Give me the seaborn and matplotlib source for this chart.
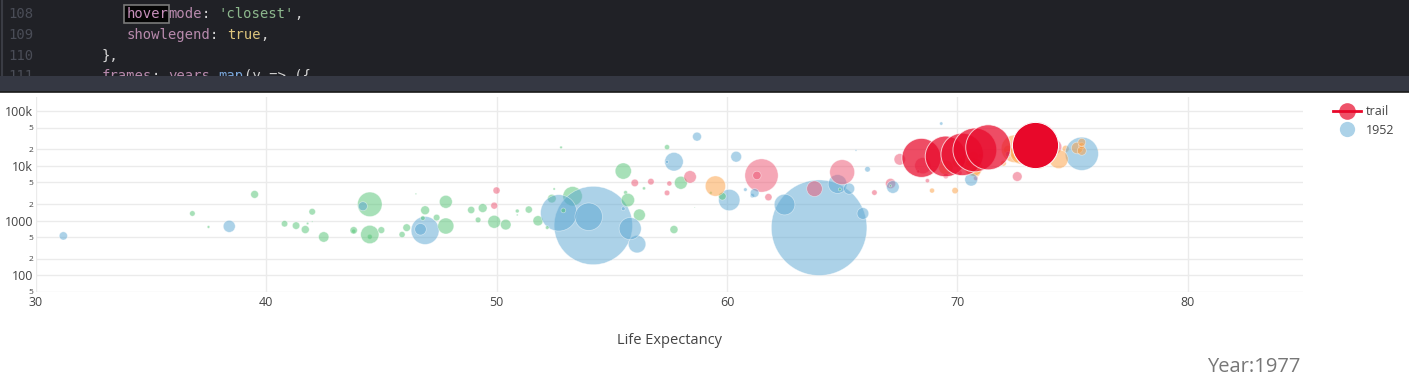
import numpy as np
import pandas as pd
import matplotlib
matplotlib.use("Agg")
import matplotlib.pyplot as plt
import seaborn as sns
from matplotlib.lines import Line2D
from matplotlib.patches import Rectangle
from matplotlib.ticker import FixedLocator

# ---------------- data (Year 1977 frame) ----------------
asia_country = ["Afghanistan", "Bahrain", "Bangladesh", "Cambodia", "China", "Hong Kong", "India",
                "Indonesia", "Iran", "Iraq", "Israel", "Japan", "Jordan", "Korea, Dem. Rep.",
                "Korea, Rep.", "Kuwait", "Lebanon", "Malaysia", "Mongolia", "Myanmar", "Nepal",
                "Oman", "Pakistan", "Philippines", "Saudi Arabia", "Singapore", "Sri Lanka",
                "Syria", "Taiwan", "Thailand", "Vietnam", "West Bank and Gaza", "Yemen, Rep."]
asia_life = [38.4, 65.6, 46.9, 31.2, 64.0, 73.6, 54.2, 52.7, 57.7, 60.4, 73.1, 75.4, 61.1, 67.2,
             64.8, 69.3, 66.1, 65.3, 55.5, 56.1, 46.7, 57.4, 54.0, 60.1, 58.7, 70.8, 65.9, 61.2,
             70.6, 62.5, 55.8, 60.8, 44.2]
asia_gdp = [786, 19211, 660, 525, 741, 11186, 813, 1383, 11889, 14688, 13307, 16610, 2852, 4106,
            4657, 59265, 8660, 3828, 1648, 371, 694, 11848, 1176, 2373, 34168, 11210, 1349, 3195,
            5597, 1961, 714, 3683, 1830]
asia_pop = [14.9, 0.30, 80.4, 7.0, 943.5, 4.6, 634.0, 136.7, 35.5, 11.9, 3.5, 113.9, 1.9, 16.3,
            36.4, 1.1, 3.1, 12.8, 1.5, 31.5, 13.9, 1.0, 78.2, 46.9, 8.1, 2.3, 14.1, 7.9, 16.8,
            44.1, 50.5, 1.3, 8.4]

africa_country = ["Algeria", "Angola", "Benin", "Botswana", "Burkina Faso", "Burundi", "Cameroon",
                  "Central African Republic", "Chad", "Comoros", "Congo, Dem. Rep.", "Congo, Rep.",
                  "Cote d'Ivoire", "Djibouti", "Egypt", "Equatorial Guinea", "Eritrea", "Ethiopia",
                  "Gabon", "Gambia", "Ghana", "Guinea", "Guinea-Bissau", "Kenya", "Lesotho",
                  "Liberia", "Libya", "Madagascar", "Malawi", "Mali", "Mauritania", "Mauritius",
                  "Morocco", "Mozambique", "Namibia", "Niger", "Nigeria", "Reunion", "Rwanda",
                  "Sao Tome and Principe", "Senegal", "Sierra Leone", "Somalia", "South Africa",
                  "Sudan", "Swaziland", "Tanzania", "Togo", "Tunisia", "Uganda", "Zambia", "Zimbabwe"]
africa_life = [58.0, 39.5, 49.2, 59.3, 46.1, 45.9, 49.4, 46.8, 47.4, 50.9, 47.8, 55.6, 52.4, 46.5,
               53.3, 42.0, 44.5, 44.5, 52.8, 41.8, 51.8, 40.8, 37.5, 56.2, 52.2, 43.8, 57.4, 46.9,
               43.8, 41.7, 50.9, 64.9, 55.7, 42.5, 56.4, 41.3, 44.5, 67.1, 45.0, 58.6, 48.9, 36.8,
               42.0, 55.5, 47.8, 52.5, 49.9, 52.9, 59.8, 50.4, 51.4, 57.7]
africa_gdp = [4910, 3009, 1029, 3215, 743, 556, 1694, 1109, 1134, 1267, 796, 3259, 2518, 3082,
              2785, 959, 506, 557, 21746, 885, 993, 875, 765, 1268, 745, 640, 21951, 1544, 663,
              686, 1497, 3711, 2371, 502, 3876, 809, 1982, 4320, 670, 1738, 1562, 1348, 1451,
              8029, 2203, 3781, 950, 1533, 2780, 844, 1589, 686]
africa_pop = [17.2, 6.2, 3.2, 0.78, 5.9, 3.8, 8.0, 2.2, 4.4, 0.30, 26.5, 1.5, 7.5, 0.23, 38.8,
              0.19, 2.5, 34.6, 0.71, 0.61, 10.5, 4.2, 0.75, 14.5, 1.3, 1.7, 2.7, 8.0, 5.6, 6.5,
              1.5, 0.91, 18.4, 11.1, 0.98, 5.7, 62.2, 0.49, 4.7, 0.09, 5.3, 3.1, 4.4, 27.1, 17.1,
              0.55, 17.1, 2.3, 6.0, 11.5, 5.2, 6.6]

americas_country = ["Argentina", "Bolivia", "Brazil", "Canada", "Chile", "Colombia", "Costa Rica",
                    "Cuba", "Dominican Republic", "Ecuador", "El Salvador", "Guatemala", "Haiti",
                    "Honduras", "Jamaica", "Mexico", "Nicaragua", "Panama", "Paraguay", "Peru",
                    "Puerto Rico", "Trinidad and Tobago", "United States", "Uruguay", "Venezuela"]
americas_life = [68.5, 50.0, 61.5, 74.2, 67.1, 63.8, 70.8, 72.6, 61.8, 61.3, 56.7, 56.0, 49.9,
                 57.4, 70.1, 65.0, 57.5, 68.7, 66.4, 58.4, 73.4, 68.3, 73.4, 69.5, 67.5]
americas_gdp = [10079, 3548, 6660, 22091, 4757, 3816, 5927, 6380, 2679, 6680, 5139, 4880, 1874,
                3203, 7434, 7675, 4757, 5352, 3248, 6281, 9771, 7900, 24073, 6504, 13144]
americas_pop = [27.0, 5.1, 114.3, 23.8, 10.6, 25.1, 2.1, 9.5, 5.3, 7.3, 4.3, 5.7, 4.9, 3.1, 2.2,
                63.8, 2.6, 1.8, 3.0, 16.0, 3.1, 1.0, 220.2, 2.9, 13.5]

europe_country = ["Albania", "Austria", "Belgium", "Bosnia and Herzegovina", "Bulgaria", "Croatia",
                  "Czech Republic", "Denmark", "Finland", "France", "Germany", "Greece", "Hungary",
                  "Iceland", "Ireland", "Italy", "Montenegro", "Netherlands", "Norway", "Poland",
                  "Portugal", "Romania", "Serbia", "Slovak Republic", "Slovenia", "Spain",
                  "Sweden", "Switzerland", "Turkey", "United Kingdom"]
europe_life = [68.9, 72.2, 72.8, 69.9, 70.8, 70.6, 70.7, 74.7, 72.5, 73.8, 72.5, 73.7, 70.0, 76.1,
               72.0, 73.5, 73.1, 75.2, 75.4, 70.7, 70.4, 69.5, 70.3, 70.5, 71.0, 74.4, 75.4, 75.4,
               59.5, 72.8]
europe_gdp = [3533, 19749, 19118, 3528, 7612, 11305, 14800, 20423, 15605, 18293, 20513, 14196,
              11675, 19655, 11151, 14256, 9596, 21209, 23311, 9508, 10172, 9356, 12981, 10923,
              15277, 13237, 18856, 26982, 4269, 17429]
europe_pop = [2.5, 7.6, 9.8, 4.1, 8.8, 4.3, 10.2, 5.1, 4.7, 53.2, 78.2, 9.3, 10.6, 0.22, 3.3,
              56.1, 0.56, 13.9, 4.0, 34.6, 9.7, 21.7, 8.7, 4.8, 1.7, 36.4, 8.3, 6.3, 42.4, 56.2]

oceania_country = ["Australia", "New Zealand"]
oceania_life = [73.5, 72.2]
oceania_gdp = [18334, 16234]
oceania_pop = [14.1, 3.2]

# trail of the United States, 1952 .. 1977
trail_year = [1952, 1957, 1962, 1967, 1972, 1977]
trail_life = [68.44, 69.49, 70.21, 70.76, 71.34, 73.38]
trail_gdp = [13990, 14847, 16173, 19530, 21806, 24073]
trail_pop = [157.6, 172.0, 186.5, 198.7, 209.9, 220.2]

x_ticks = [30, 40, 50, 60, 70, 80]
y_major = [100, 1000, 10000, 100000]
y_major_labels = ["100", "1000", "10k", "100k"]
y_minor = [50, 200, 500, 2000, 5000, 20000, 50000]
y_minor_labels = ["5", "2", "5", "2", "5", "2", "5"]

code_numbers = ["108", "109", "110", "111"]

# ---------------- frame ----------------
frames = []
for cont, c, l, g, p in [("Asia", asia_country, asia_life, asia_gdp, asia_pop),
                         ("Africa", africa_country, africa_life, africa_gdp, africa_pop),
                         ("Americas", americas_country, americas_life, americas_gdp, americas_pop),
                         ("Europe", europe_country, europe_life, europe_gdp, europe_pop),
                         ("Oceania", oceania_country, oceania_life, oceania_gdp, oceania_pop)]:
    frames.append(pd.DataFrame({"country": c, "continent": cont, "life": l, "gdp": g,
                                "pop": np.array(p) * 1e6}))
df = pd.concat(frames).sort_values("country").reset_index(drop=True)
trail = pd.DataFrame({"year": trail_year, "life": trail_life, "gdp": trail_gdp,
                      "pop": np.array(trail_pop) * 1e6})

palette = {"Asia": "#5aa6d2", "Africa": "#51c373", "Americas": "#ed516f",
           "Europe": "#fd9f41", "Oceania": "#9e7cc1"}
RED = "#e8082a"

W, H = 1409, 382
fig = plt.figure(figsize=(W / 100, H / 100), dpi=100)
fig.patch.set_facecolor("white")

# ---------------- code editor strip ----------------
axc = fig.add_axes([0, 1 - 76 / H, 1, 76 / H])
axc.set_xlim(0, W)
axc.set_ylim(76, 0)
axc.set_facecolor("#202126")
for s in axc.spines.values():
    s.set_visible(False)
axc.set_xticks([])
axc.set_yticks([])
axc.axvline(1.5, color="#3a3c44", lw=1.5)

mono = "DejaVu Sans Mono"
cw = 8.36
line_y = [14.3, 34.9, 55.5, 76.3]
for n, yv in zip(code_numbers, line_y):
    axc.text(8.3, yv, n, family=mono, fontsize=10, color="#4a4d57", va="center", ha="left")

MAUVE, WHITE, GREEN, YEL, BLUE = "#b88aad", "#d4d4d4", "#8db88d", "#dcc47c", "#7aa6da"
code_lines = [
    (126.7, line_y[0], [("hover", "#c890bc"), ("mode", MAUVE), (": ", WHITE), ("'closest'", GREEN), (",", WHITE)]),
    (126.7, line_y[1], [("showlegend", MAUVE), (": ", WHITE), ("true", YEL), (",", WHITE)]),
    (101.7, line_y[2], [("},", WHITE)]),
    (101.7, line_y[3], [("frames", MAUVE), (": ", WHITE), ("years", MAUVE), (".", WHITE),
                        ("map", BLUE), ("(y => ({", WHITE)]),
]
axc.add_patch(Rectangle((124.3, 4.7), 45, 18.6, facecolor="#050505", edgecolor="#7a7a7a", lw=1.2, zorder=1))
for x0, yv, segs in code_lines:
    col = 0
    for txt, colr in segs:
        axc.text(x0 + col * cw, yv, txt, family=mono, fontsize=10, color=colr,
                 va="center", ha="left", zorder=3, clip_on=True)
        col += len(txt)

# status bar
axb = fig.add_axes([0, 1 - 92 / H, 1, 16 / H])
axb.set_facecolor("#353843")
for s in axb.spines.values():
    s.set_visible(False)
axb.set_xticks([])
axb.set_yticks([])
fig.add_artist(Line2D([0, 1], [1 - 92 / H, 1 - 92 / H], color="#1a1a1a", lw=1.2,
                      transform=fig.transFigure))

# ---------------- bubble chart ----------------
left, right, top, bottom = 35.7, 1303, 97, 291.8
ax = fig.add_axes([left / W, (H - bottom) / H, (right - left) / W, (bottom - top) / H])
ax.set_facecolor("white")
for s in ax.spines.values():
    s.set_visible(False)

smax = 4730.0
popmax = 943.5e6

sns.scatterplot(data=df, x="life", y="gdp", hue="continent", palette=palette,
                size="pop", sizes=(0, smax), size_norm=(0, popmax), alpha=0.5,
                edgecolor="white", linewidth=0.5, legend=False, ax=ax, zorder=3)

sns.scatterplot(data=trail.iloc[:-1], x="life", y="gdp", size="pop", sizes=(0, smax),
                size_norm=(0, popmax), color=RED, alpha=0.72, edgecolor="white",
                linewidth=0.7, legend=False, ax=ax, zorder=5)
sns.scatterplot(data=trail.iloc[-1:], x="life", y="gdp", size="pop", sizes=(0, smax),
                size_norm=(0, popmax), color=RED, alpha=1.0, edgecolor="white",
                linewidth=0.7, legend=False, ax=ax, zorder=6)

ax.set_yscale("log")
ax.set_xlim(30, 85)
ax.set_ylim(50, 181000)
ax.set_xlabel("")
ax.set_ylabel("")

ax.xaxis.set_major_locator(FixedLocator(x_ticks))
ax.set_xticklabels([str(t) for t in x_ticks])
ax.yaxis.set_major_locator(FixedLocator(y_major))
ax.yaxis.set_minor_locator(FixedLocator(y_minor))
ax.set_yticklabels(y_major_labels)
ax.set_yticklabels(y_minor_labels, minor=True)

tick_font = "Open Sans"
ax.tick_params(axis="x", length=0, pad=3, labelsize=9, labelcolor="#444444")
ax.tick_params(axis="y", which="major", length=0, pad=2, labelsize=9, labelcolor="#444444")
ax.tick_params(axis="y", which="minor", length=0, pad=2, labelsize=6, labelcolor="#444444")
for lab in ax.get_xticklabels() + ax.get_yticklabels() + ax.get_yticklabels(minor=True):
    lab.set_family(tick_font)

ax.grid(True, which="major", axis="both", color="#ebebeb", lw=1, zorder=0)
ax.grid(True, which="minor", axis="y", color="#ebebeb", lw=1, zorder=0)
ax.set_axisbelow(True)

fig.text((left + right) / 2 / W, 1 - 341 / H, "Life Expectancy", family=tick_font,
         fontsize=10.5, color="#444444", ha="center", va="center")
fig.text(1300 / W, 1 - 367 / H, "Year:1977", family=tick_font, fontsize=14.5,
         color="#777777", ha="right", va="center")

# legend
handles = [Line2D([0], [0], color=RED, lw=2, marker="o", markersize=12,
                  markerfacecolor=(232 / 255, 8 / 255, 42 / 255, 0.7), markeredgecolor="none"),
           Line2D([0], [0], color="none", marker="o", markersize=11,
                  markerfacecolor=(90 / 255, 166 / 255, 210 / 255, 0.5), markeredgecolor="none")]
leg = fig.legend(handles, ["trail", "1952"], loc="upper left",
                 bbox_to_anchor=(1328 / W, 1 - 100 / H), frameon=False,
                 prop={"family": tick_font, "size": 9}, labelcolor="#444444",
                 handlelength=2.2, handletextpad=0.4, labelspacing=0.45, borderaxespad=0)

fig.savefig("out.png", dpi=100, facecolor="white")
